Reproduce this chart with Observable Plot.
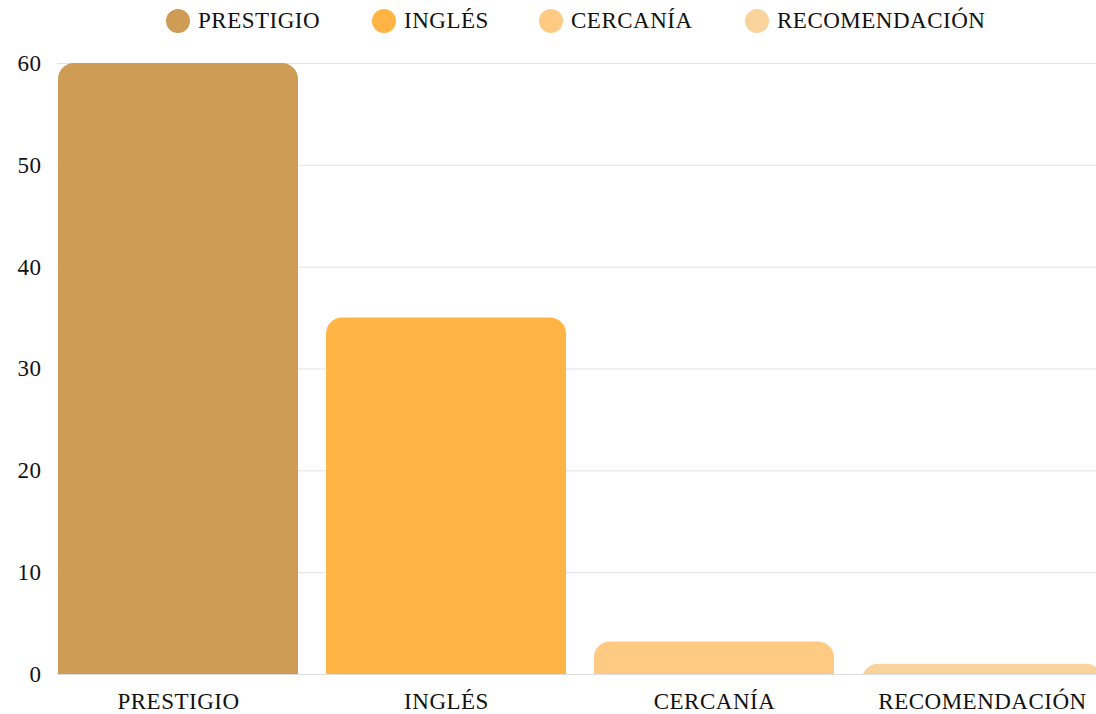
<!DOCTYPE html>
<html>
<head>
<meta charset="utf-8">
<script src="https://cdn.jsdelivr.net/npm/d3@7"></script>
<script src="https://cdn.jsdelivr.net/npm/@observablehq/plot@0.6"></script>
<style>
  html, body { margin: 0; padding: 0; background: #fff; overflow: hidden; }
  body { width: 1096px; height: 714px; font-family: "Liberation Serif", "DejaVu Serif", serif; position: relative; }
  #legend { position: relative; width: 1096px; height: 45px; font-size: 23px; letter-spacing: 0.5px; color: #111; }
  .item { position: absolute; top: 0; height: 42px; display: flex; align-items: center; gap: 8px; white-space: nowrap; }
  .sw { width: 24px; height: 24px; border-radius: 50%; display: inline-block; }
</style>
</head>
<body>
<div id="legend"></div>
<div id="chart"></div>
<script>
const categories = ["PRESTIGIO", "INGLÉS", "CERCANÍA", "RECOMENDACIÓN"];
const values = [60, 35, 3.2, 1];
const colors = ["#CE9C54", "#FFB444", "#FFCB82", "#F8D49C"];
const yTicks = [0, 10, 20, 30, 40, 50, 60];

const data = categories.map((c, i) => ({ cat: c, value: values[i], color: colors[i] }));

// legend placement (left edge of each swatch)
const legendLeft = [166, 372, 539, 745];
const legend = document.getElementById("legend");
categories.forEach((c, i) => {
  const it = document.createElement("div");
  it.className = "item";
  it.style.left = legendLeft[i] + "px";
  const sw = document.createElement("span");
  sw.className = "sw";
  sw.style.background = colors[i];
  const t = document.createElement("span");
  t.textContent = c;
  it.appendChild(sw); it.appendChild(t);
  legend.appendChild(it);
});

const chart = Plot.plot({
  width: 1096,
  height: 669,
  marginLeft: 57,
  marginRight: 0,
  marginTop: 18,
  marginBottom: 40,
  style: { fontFamily: "'Liberation Serif', 'DejaVu Serif', serif", fontSize: "23px", color: "#111", overflow: "visible", letterSpacing: "0.5px" },
  x: { domain: categories, range: [57.5, 1103.5], paddingInner: 0.104, paddingOuter: 0, label: null },
  y: { domain: [0, 60], label: null },
  marks: [
    Plot.gridY(yTicks, { stroke: "#e2e2e2", strokeOpacity: 1 }),
    Plot.ruleY([0], { stroke: "#dcdcdc" }),
    Plot.barY(data, { x: "cat", y1: -3, y2: "value", fill: "color", rx: 16, clip: true }),
    Plot.axisY(yTicks, { tickSize: 0, tickPadding: 16, label: null, fontSize: 23, fill: "#111" }),
    Plot.axisX({ tickSize: 0, tickPadding: 18, label: null, fontSize: 23, fill: "#111" })
  ]
});
document.getElementById("chart").appendChild(chart);
</script>
</body>
</html>
